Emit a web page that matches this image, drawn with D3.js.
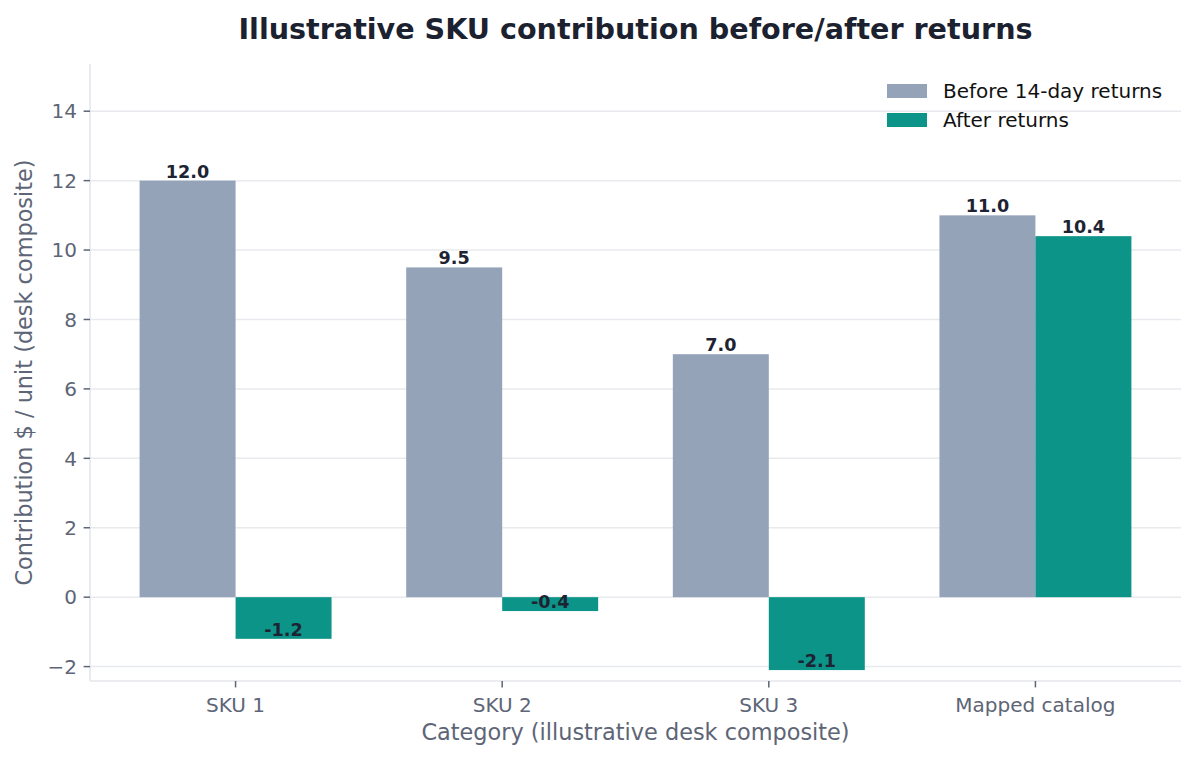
<!DOCTYPE html>
<html><head><meta charset="utf-8">
<script src="https://cdn.jsdelivr.net/npm/d3@7"></script>
<style>
html,body{margin:0;padding:0;background:#fff;}
text{font-family:"DejaVu Sans",sans-serif;}
</style></head>
<body><svg id="chart" width="1197" height="760"></svg>
<script>
const categories = ["SKU 1", "SKU 2", "SKU 3", "Mapped catalog"];
const seriesNames = ["Before 14-day returns", "After returns"];
const beforeValues = [12.0, 9.5, 7.0, 11.0];
const afterValues = [-1.2, -0.4, -2.1, 10.4];
const yTicks = [-2, 0, 2, 4, 6, 8, 10, 12, 14];
const colors = ["#94a3b8", "#0d9488"];

const svg = d3.select("#chart");
const m = {left: 90, right: 1181, top: 64, bottom: 681};
const barW = 0.36;

const x = d3.scaleLinear()
  .domain([-barW - 0.05 * (3 + 2 * barW), 3 + barW + 0.05 * (3 + 2 * barW)])
  .range([m.left, m.right]);
const allVals = beforeValues.concat(afterValues);
const y = d3.scaleLinear().domain([d3.min(allVals) * 1.15, d3.max(allVals) * 1.28]).range([m.bottom, m.top]);

const tickColor = "#5d6576";
const spineColor = "#e3e6eb";
const gridColor = "#e8eaee";

// grid
svg.append("g").selectAll("line").data(yTicks).join("line")
  .attr("x1", m.left).attr("x2", m.right)
  .attr("y1", d => y(d)).attr("y2", d => y(d))
  .attr("stroke", gridColor).attr("stroke-width", 1.5);

// bars
const groups = [beforeValues, afterValues];
groups.forEach((vals, si) => {
  svg.append("g").selectAll("rect").data(vals).join("rect")
    .attr("x", (d, i) => x(i + (si === 0 ? -barW : 0)))
    .attr("width", x(barW) - x(0))
    .attr("y", d => y(Math.max(0, d)))
    .attr("height", d => Math.abs(y(d) - y(0)))
    .attr("fill", colors[si]);
  svg.append("g").selectAll("text").data(vals).join("text")
    .attr("x", (d, i) => x(i + (si === 0 ? -barW / 2 : barW / 2)))
    .attr("y", d => y(d) - 3)
    .attr("text-anchor", "middle")
    .attr("font-size", 17.6).attr("font-weight", "bold")
    .attr("fill", "#1e2333")
    .text(d => d.toFixed(1));
});

// spines
svg.append("line").attr("x1", m.left).attr("x2", m.left).attr("y1", m.top).attr("y2", m.bottom)
  .attr("stroke", spineColor).attr("stroke-width", 1.6);
svg.append("line").attr("x1", m.left).attr("x2", m.right).attr("y1", m.bottom).attr("y2", m.bottom)
  .attr("stroke", spineColor).attr("stroke-width", 1.6);

// y ticks
const yt = svg.append("g").selectAll("g").data(yTicks).join("g");
yt.append("line").attr("x1", m.left - 6.4).attr("x2", m.left)
  .attr("y1", d => y(d)).attr("y2", d => y(d)).attr("stroke", tickColor).attr("stroke-width", 1.5);
yt.append("text").attr("x", m.left - 13).attr("y", d => y(d)).attr("dy", "0.36em")
  .attr("text-anchor", "end").attr("font-size", 20).attr("fill", tickColor)
  .text(d => d < 0 ? "\u2212" + Math.abs(d) : String(d));

// x ticks
const xt = svg.append("g").selectAll("g").data(categories).join("g");
xt.append("line").attr("x1", (d, i) => x(i)).attr("x2", (d, i) => x(i))
  .attr("y1", m.bottom).attr("y2", m.bottom + 6.4).attr("stroke", tickColor).attr("stroke-width", 1.5);
xt.append("text").attr("x", (d, i) => x(i)).attr("y", 712)
  .attr("text-anchor", "middle").attr("font-size", 20).attr("fill", tickColor).text(d => d);

// axis labels
svg.append("text").attr("x", (m.left + m.right) / 2).attr("y", 740)
  .attr("text-anchor", "middle").attr("font-size", 22.4).attr("fill", tickColor)
  .text("Category (illustrative desk composite)");
svg.append("text").attr("transform", `translate(32,${(m.top + m.bottom) / 2}) rotate(-90)`)
  .attr("text-anchor", "middle").attr("font-size", 22.4).attr("fill", tickColor)
  .text("Contribution $ / unit (desk composite)");

// title
svg.append("text").attr("x", (m.left + m.right) / 2).attr("y", 39)
  .attr("text-anchor", "middle").attr("font-size", 28.6).attr("font-weight", "bold").attr("fill", "#1c2130")
  .text("Illustrative SKU contribution before/after returns");

// legend
const lg = svg.append("g").selectAll("g").data(seriesNames).join("g")
  .attr("transform", (d, i) => `translate(887,${91 + i * 29})`);
lg.append("rect").attr("x", 0).attr("y", -7).attr("width", 40).attr("height", 14)
  .attr("fill", (d, i) => colors[i]);
lg.append("text").attr("x", 56).attr("y", 0).attr("dy", "0.36em")
  .attr("font-size", 20).attr("fill", "#111").text(d => d);
</script></body></html>
